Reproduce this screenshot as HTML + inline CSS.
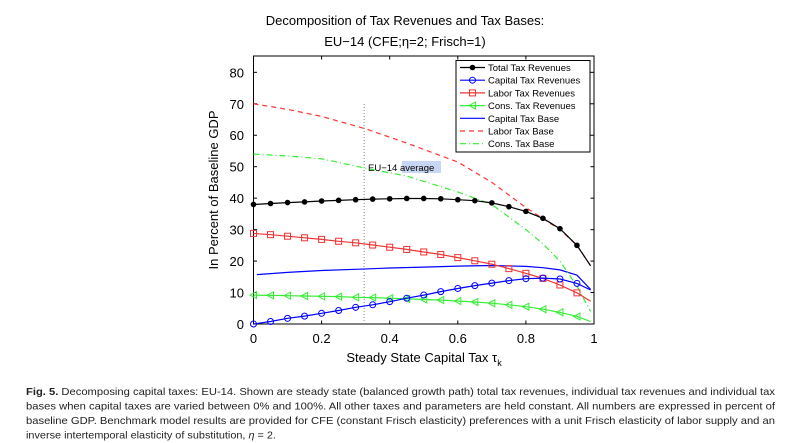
<!DOCTYPE html>
<html><head><meta charset="utf-8"><style>
body{margin:0;background:#fff;width:800px;height:443px;overflow:hidden;font-family:"Liberation Sans",sans-serif}
svg{position:absolute;left:0;top:0}
</style></head><body>
<svg width="800" height="443" id="s" xmlns="http://www.w3.org/2000/svg" font-family="Liberation Sans, sans-serif">
<text x="405" y="25" font-size="13" text-anchor="middle">Decomposition of Tax Revenues and Tax Bases:</text>
<text x="405" y="46" font-size="13" text-anchor="middle">EU−14 (CFE;η=2; Frisch=1)</text>
<rect x="253.5" y="56" width="340.5" height="268" fill="none" stroke="#000" stroke-width="1"/>
<g id="g"></g>
<text x="424" y="362" font-size="13" text-anchor="middle">Steady State Capital Tax τ<tspan font-size="9" dy="4">k</tspan></text>
<text transform="translate(218,190) rotate(-90)" font-size="13" text-anchor="middle">In Percent of Baseline GDP</text>
<rect x="402" y="161" width="39" height="12" fill="#c8d6f5"/>
<text x="368" y="171" font-size="9.5">EU−14 average</text>
<rect x="456" y="60.5" width="134" height="91.5" fill="#fff" stroke="#000"/>
<g font-size="9.5" id="leg"></g>
<g font-size="10.5" fill="#222" font-family="Liberation Sans, sans-serif">
<text x="26" y="395" textLength="749" lengthAdjust="spacingAndGlyphs"><tspan font-weight="bold">Fig. 5.</tspan>  Decomposing capital taxes: EU-14. Shown are steady state (balanced growth path) total tax revenues, individual tax revenues and individual tax</text>
<text x="26" y="409.5" textLength="749" lengthAdjust="spacingAndGlyphs">bases when capital taxes are varied between 0% and 100%. All other taxes and parameters are held constant. All numbers are expressed in percent of</text>
<text x="26" y="424" textLength="749" lengthAdjust="spacingAndGlyphs">baseline GDP. Benchmark model results are provided for CFE (constant Frisch elasticity) preferences with a unit Frisch elasticity of labor supply and an</text>
<text x="26" y="438.5" textLength="250" lengthAdjust="spacingAndGlyphs">inverse intertemporal elasticity of substitution, <tspan font-style="italic">η</tspan> = 2.</text>
</g>
</svg>
<script>
var ns="http://www.w3.org/2000/svg",g=document.getElementById('g'),lg=document.getElementById('leg');
function X(v){return 253.5+v*340.5}function Y(v){return 324-v*3.146}
function el(t,a,p){var e=document.createElementNS(ns,t);for(var k in a)e.setAttribute(k,a[k]);(p||g).appendChild(e);return e}
for(var i=0;i<=8;i++){var y=Y(i*10);el('line',{x1:253.5,x2:257,y1:y,y2:y,stroke:'#000'});el('line',{x1:594,x2:590.5,y1:y,y2:y,stroke:'#000'});var t=el('text',{x:244,y:y+5,'font-size':13,'text-anchor':'end'});t.textContent=i*10;}
for(var i=0;i<=5;i++){var x=X(i*0.2);el('line',{x1:x,x2:x,y1:324,y2:320.5,stroke:'#000'});el('line',{x1:x,x2:x,y1:56,y2:59.5,stroke:'#000'});var t=el('text',{x:x,y:343,'font-size':13,'text-anchor':'middle'});t.textContent=i==0?'0':i==5?'1':(i*0.2).toFixed(1);}
el('line',{x1:X(0.325),x2:X(0.325),y1:104,y2:324,stroke:'#888','stroke-dasharray':'1,2'});
var xs=[];for(var i=0;i<20;i++)xs.push(i*0.05);xs.push(0.99);
var tot=[38,38.3,38.6,38.8,39.1,39.3,39.5,39.7,39.8,39.9,39.9,39.8,39.5,39.2,38.5,37.3,35.8,33.6,30.3,25,18.5];
var cap=[0,0.8,1.8,2.5,3.4,4.3,5.3,6.1,7.1,8.2,9.2,10.3,11.3,12.2,13,13.8,14.4,14.6,14.3,12.9,10.8];
var lab=[28.8,28.4,27.9,27.4,26.9,26.3,25.8,25.1,24.4,23.7,22.9,22.1,21.1,20.1,19,17.6,16.1,14.5,12.4,9.9,7.2];
var con=[9.2,9.1,9.0,8.9,8.8,8.7,8.5,8.4,8.2,8.0,7.8,7.6,7.3,7.0,6.6,6.1,5.5,4.7,3.7,2.4,0.8];
function pts(xa,ya){return xa.map(function(x,i){return X(x).toFixed(1)+','+Y(ya[i]).toFixed(1)}).join(' ')}
function line(xa,ya,c,d){el('polyline',{points:pts(xa,ya),fill:'none',stroke:c,'stroke-width':1.2,'stroke-dasharray':d||''})}
line([0.01,0.1,0.2,0.3,0.4,0.5,0.6,0.7,0.8,0.85,0.9,0.95,0.99],[15.7,16.4,17,17.4,17.8,18.1,18.4,18.6,18.3,17.9,17.2,15.5,11],'#00f');
line([0,0.1,0.2,0.33,0.45,0.6,0.7,0.8,0.85,0.9,0.95,0.99],[70,68.2,66,62,57.5,51.5,45,37,33.5,30,25,18.5],'#f33','5,4');
line([0,0.1,0.2,0.33,0.45,0.6,0.7,0.8,0.85,0.9,0.95,0.99],[54,53.4,52.5,49.5,47,42,38,30,25.5,20,12,4],'#3e3','6,3,1,3');
function mk(type,x,y,c,p){if(type=='o')el('circle',{cx:x,cy:y,r:3,fill:'none',stroke:c},p);else if(type=='s')el('rect',{x:x-3,y:y-3,width:6,height:6,fill:'none',stroke:c},p);else if(type=='t')el('polygon',{points:(x-3.5)+','+y+' '+(x+3)+','+(y-3.5)+' '+(x+3)+','+(y+3.5),fill:'none',stroke:c},p);else{el('circle',{cx:x,cy:y,r:2.8,fill:c},p);}}
function ser(ya,c,m){line(xs,ya,c);for(var i=0;i<20;i++)mk(m,X(xs[i]),Y(ya[i]),c)}
ser(con,'#3e3','t');ser(lab,'#e33','s');ser(cap,'#00f','o');ser(tot,'#000','*');
var L=[['Total Tax Revenues','#000','','*'],['Capital Tax Revenues','#00f','','o'],['Labor Tax Revenues','#e33','','s'],['Cons. Tax Revenues','#3e3','','t'],['Capital Tax Base','#00f','',''],['Labor Tax Base','#f33','5,4',''],['Cons. Tax Base','#3e3','6,3,1,3','']];
L.forEach(function(l,i){var y=67.5+i*12.7;el('line',{x1:460,x2:485,y1:y,y2:y,stroke:l[1],'stroke-width':1.2,'stroke-dasharray':l[2]},lg);if(l[3])mk(l[3],472.5,y,l[1],lg);var t=el('text',{x:488,y:y+3.5},lg);t.textContent=l[0];});
</script>
</body></html>
